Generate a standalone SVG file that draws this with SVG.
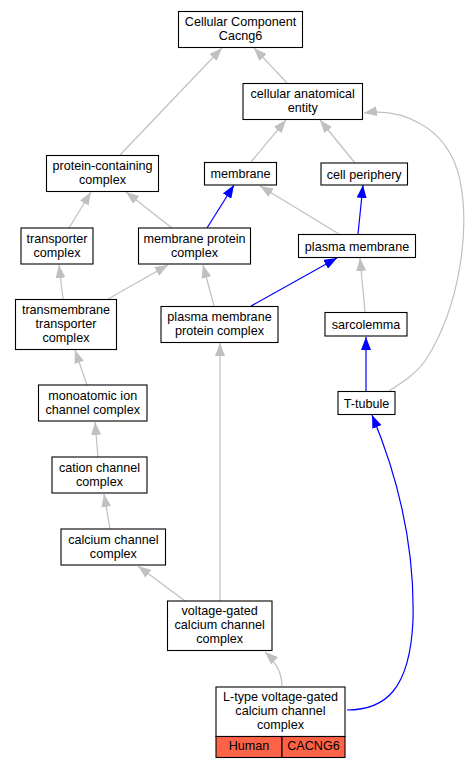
<svg xmlns="http://www.w3.org/2000/svg" width="473" height="768" viewBox="0 0 473 768">
<style>
.n rect{fill:#fff;stroke:#000;stroke-width:1.1}
.n text{font-family:"Liberation Sans",Arial,sans-serif;font-size:12.6px;fill:#000;text-anchor:middle}
.g{fill:none;stroke:#c0c0c0;stroke-width:1.2;marker-end:url(#ag)}
.b{fill:none;stroke:#0000ff;stroke-width:1.2;marker-end:url(#ab)}
.n rect.sp{fill:#ff6347}
</style>
<defs>
<marker id="ag" markerUnits="userSpaceOnUse" markerWidth="13" markerHeight="10" refX="13" refY="5" orient="auto"><path d="M0,0 L13,5 L0,10 z" fill="#c0c0c0"/></marker>
<marker id="ab" markerUnits="userSpaceOnUse" markerWidth="13" markerHeight="10" refX="13" refY="5" orient="auto"><path d="M0,0 L13,5 L0,10 z" fill="#0000ff"/></marker>
</defs>
<rect width="473" height="768" fill="#fff"/>
<g id="edges">
<path class="g" d="M287,83 L254,48"/>
<path class="g" d="M120,155 L222,48"/>
<path class="g" d="M251,162 L286,120"/>
<path class="g" d="M355,163 L320,120"/>
<path class="g" d="M389,391 C405,381 418,372 427,358 C460,305 470,230 460,180 C448,125 400,108 364,113"/>
<path class="g" d="M69,228 L91,192"/>
<path class="g" d="M172,228 L126,192"/>
<path class="b" d="M207,228 L234,185"/>
<path class="g" d="M339,234 L260,186"/>
<path class="b" d="M358,234 L363,185"/>
<path class="g" d="M63,299 L59,265"/>
<path class="g" d="M108,299 L168,265"/>
<path class="g" d="M214,306 L203,265"/>
<path class="b" d="M251,306 L337,258"/>
<path class="g" d="M365,312 L360,258"/>
<path class="b" d="M366,391 L366,337"/>
<path class="g" d="M87,385 L75,350"/>
<path class="g" d="M98,457 L95,422"/>
<path class="g" d="M110,529 L104,494"/>
<path class="g" d="M185,601 L138,566"/>
<path class="g" d="M220,601 L220,343"/>
<path class="g" d="M282,686 C282,674 277,663 265,652"/>
<path class="b" d="M347,710 C385,710 410,690 413,620 C415,540 395,470 372,415"/>
</g>
<g id="n_root" class="n"><rect x="178.5" y="11.5" width="124" height="36"/><text x="240.5" y="26.3">Cellular Component</text><text x="240.5" y="40.4">Cacng6</text></g>
<g id="n_cae" class="n"><rect x="243" y="83.5" width="119.5" height="36"/><text x="302.7" y="98.3">cellular anatomical</text><text x="302.7" y="112.4">entity</text></g>
<g id="n_pcc" class="n"><rect x="46.5" y="155.5" width="112" height="36"/><text x="102.5" y="170.3">protein-containing</text><text x="102.5" y="184.4">complex</text></g>
<g id="n_membrane" class="n"><rect x="204.5" y="162.5" width="72" height="22.5"/><text x="240.5" y="178.3">membrane</text></g>
<g id="n_cellper" class="n"><rect x="321" y="163" width="86.5" height="22"/><text x="364.2" y="178.5">cell periphery</text></g>
<g id="n_transporter" class="n"><rect x="21" y="228" width="72" height="36"/><text x="57" y="242.8">transporter</text><text x="57" y="256.9">complex</text></g>
<g id="n_mpc" class="n"><rect x="138.5" y="228" width="112" height="36"/><text x="194.5" y="242.8">membrane protein</text><text x="194.5" y="256.9">complex</text></g>
<g id="n_pm" class="n"><rect x="298.5" y="234.5" width="117" height="23"/><text x="357" y="250.5">plasma membrane</text></g>
<g id="n_tmtc" class="n"><rect x="15.5" y="299.5" width="101" height="50"/><text x="66" y="313.7">transmembrane</text><text x="66" y="327.8">transporter</text><text x="66" y="341.9">complex</text></g>
<g id="n_pmpc" class="n"><rect x="161" y="306.5" width="117" height="36"/><text x="219.5" y="321.3">plasma membrane</text><text x="219.5" y="335.4">protein complex</text></g>
<g id="n_sarcolemma" class="n"><rect x="325" y="312.5" width="82" height="23.5"/><text x="366" y="328.7">sarcolemma</text></g>
<g id="n_ttubule" class="n"><rect x="338" y="391.5" width="57" height="23"/><text x="366.5" y="407.5">T-tubule</text></g>
<g id="n_monoatomic" class="n"><rect x="38.5" y="385" width="108.5" height="36"/><text x="92.7" y="399.8">monoatomic ion</text><text x="92.7" y="413.9">channel complex</text></g>
<g id="n_cation" class="n"><rect x="52" y="457" width="95" height="36"/><text x="99.5" y="471.8">cation channel</text><text x="99.5" y="485.9">complex</text></g>
<g id="n_calcium" class="n"><rect x="61" y="529" width="104.5" height="36"/><text x="113.3" y="543.8">calcium channel</text><text x="113.3" y="557.9">complex</text></g>
<g id="n_vgcc" class="n"><rect x="167.5" y="601" width="104.5" height="49.5"/><text x="219.7" y="614.7">voltage-gated</text><text x="219.7" y="628.8">calcium channel</text><text x="219.7" y="642.9">complex</text></g>
<g id="n_ltype" class="n"><rect x="216" y="687" width="129" height="49.5"/><text x="280.5" y="700.7">L-type voltage-gated</text><text x="280.5" y="714.8">calcium channel</text><text x="280.5" y="728.9">complex</text>
<rect class="sp" x="216" y="736.5" width="66" height="21"/><text x="249" y="749.5">Human</text>
<rect class="sp" x="282" y="736.5" width="63" height="21"/><text x="313.5" y="749.5">CACNG6</text></g>
</svg>
